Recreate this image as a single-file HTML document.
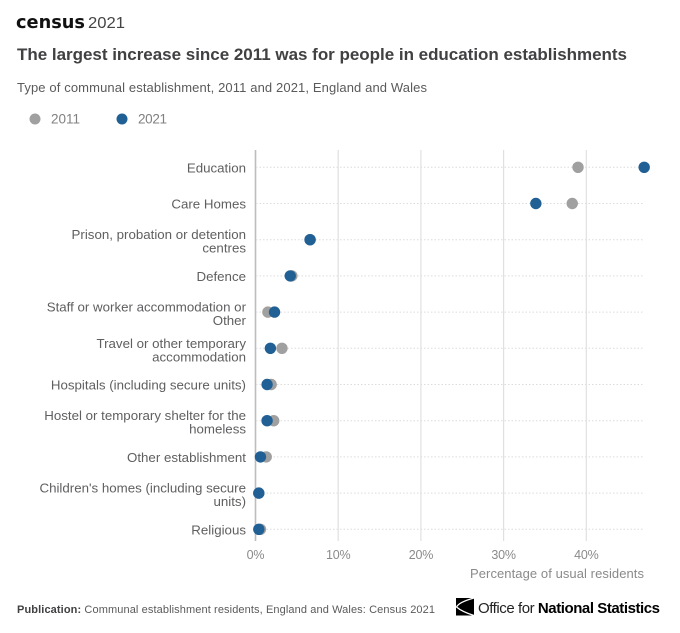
<!DOCTYPE html>
<html lang="en">
<head>
<meta charset="utf-8">
<title>Communal establishment residents</title>
<style>
html,body{margin:0;padding:0;background:#fff;width:680px;height:633px;overflow:hidden}
svg{display:block;font-family:"Liberation Sans",sans-serif}
</style>
</head>
<body>
<svg id="chart" width="680" height="633" viewBox="0 0 680 633" xmlns="http://www.w3.org/2000/svg">
  <rect x="0" y="0" width="680" height="633" fill="#ffffff"/>
  <g>
    <text x="16" y="28" font-size="18" font-weight="700" fill="#111" textLength="69" lengthAdjust="spacingAndGlyphs" style="font-family:'DejaVu Sans',sans-serif">census</text>
    <text x="88" y="28" font-size="15.500" fill="#444" textLength="37" lengthAdjust="spacingAndGlyphs">2021</text>
  </g>
  <text x="17" y="60" font-size="17" font-weight="700" fill="#414042" textLength="610" lengthAdjust="spacing">The largest increase since 2011 was for people in education establishments</text>
  <text x="17" y="92" font-size="13" fill="#5a5a5c" textLength="410" lengthAdjust="spacing">Type of communal establishment, 2011 and 2021, England and Wales</text>

  <g>
    <g>
      <circle cx="35" cy="119" r="5.500" fill="#a0a0a0"/>
      <text x="51" y="123.500" font-size="13.500" fill="#808082" textLength="29" lengthAdjust="spacing">2011</text>
    </g>
    <g>
      <circle cx="122" cy="119" r="5.500" fill="#206095"/>
      <text x="138" y="123.500" font-size="13.500" fill="#808082" textLength="29" lengthAdjust="spacing">2021</text>
    </g>
  </g>

  <g id="grid"></g>
  <g id="rows"></g>
  <g id="xlabels"></g>
  <g id="ylabels"></g>
  <g id="marks"></g>

  <text x="644" y="578" font-size="13" fill="#8a8a8c" text-anchor="end" textLength="174" lengthAdjust="spacing">Percentage of usual residents</text>

  <text x="17" y="613" font-size="11" fill="#5a5a5c" textLength="418" lengthAdjust="spacing"><tspan font-weight="700" fill="#414042">Publication:</tspan> Communal establishment residents, England and Wales: Census 2021</text>

  <g>
    <rect x="456" y="598" width="18" height="17.500" fill="#000"/>
    <path d="M474 598 C463 601 458 604 456.500 607 C460 610 466 613 474 615.500" fill="none" stroke="#fff" stroke-width="1.300"/>
    <text x="478" y="613" font-size="15" fill="#222" textLength="182" lengthAdjust="spacing">Office for <tspan font-weight="700" fill="#000">National Statistics</tspan></text>
  </g>
</svg>
<script>
const categories = [
  ["Education"],
  ["Care Homes"],
  ["Prison, probation or detention", "centres"],
  ["Defence"],
  ["Staff or worker accommodation or", "Other"],
  ["Travel or other temporary", "accommodation"],
  ["Hospitals (including secure units)"],
  ["Hostel or temporary shelter for the", "homeless"],
  ["Other establishment"],
  ["Children's homes (including secure", "units)"],
  ["Religious"]
];
const values2011 = [39.0, 38.3, 6.6, 4.4, 1.5, 3.2, 1.9, 2.2, 1.3, 0.4, 0.6];
const values2021 = [47.0, 33.9, 6.6, 4.2, 2.3, 1.8, 1.4, 1.4, 0.6, 0.4, 0.4];
const xTicks = [0, 10, 20, 30, 40];
const tickSuffix = "%";

const NS = "http://www.w3.org/2000/svg";
const xScale = v => 255.5 + v * 8.27;
const yScale = i => 167.3 + i * 36.2;
const make = (tag, attrs, parent) => {
  const el = document.createElementNS(NS, tag);
  Object.keys(attrs).forEach(k => el.setAttribute(k, attrs[k]));
  parent.appendChild(el);
  return el;
};
const grid = document.getElementById("grid");
const rows = document.getElementById("rows");
const xlabels = document.getElementById("xlabels");
const ylabels = document.getElementById("ylabels");
const marks = document.getElementById("marks");

xTicks.forEach(t => {
  const line = make("line", {x1: xScale(t), x2: xScale(t), y1: 150, y2: 541, stroke: t === 0 ? "#bdbdc0" : "#e0e0e2", "stroke-width": t === 0 ? 1.6 : 1.2}, grid);
  
  
  const label = make("text", {x: xScale(t), y: 559, "font-size": 12.5, fill: "#8a8a8c", "text-anchor": "middle", "letter-spacing": -0.2}, xlabels);
  label.textContent = t + tickSuffix;
  
  
});

categories.forEach((lines, i) => {
  const y = yScale(i);
  const guide = make("line", {x1: 256, x2: 644, y1: y, y2: y, stroke: "#dcdcde", "stroke-width": 1, "stroke-dasharray": "1.500 2"}, rows);
  
  
  lines.forEach((line, j) => {
    const offset = lines.length === 1 ? 5 : (j === 0 ? -0.5 : 13);
    const label = make("text", {x: 246, y: y + offset, "font-size": 13.3, fill: "#5f5f61", "text-anchor": "end"}, ylabels);
    label.textContent = line;
    
    
  });
  const a = make("circle", {cx: xScale(values2011[i]), cy: y, r: 5.7, fill: "#a0a0a0"}, marks);
  
  
  const b = make("circle", {cx: xScale(values2021[i]), cy: y, r: 5.7, fill: "#206095"}, marks);
  
  
});
</script>
</body>
</html>
